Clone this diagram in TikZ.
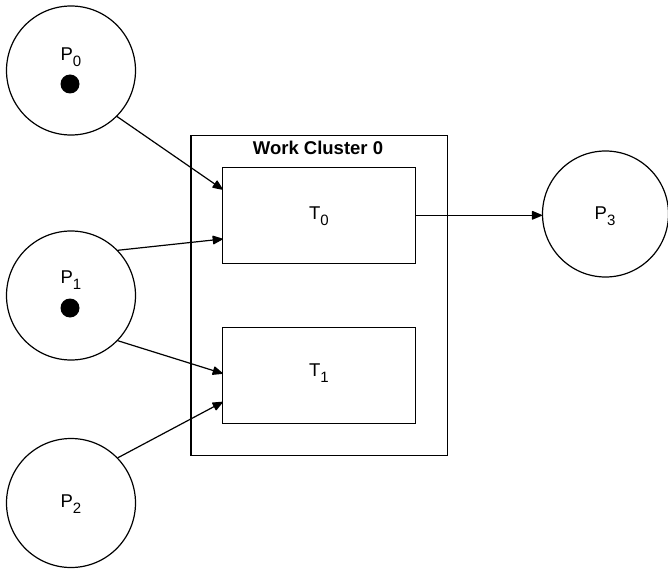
\documentclass[tikz,border=0pt]{standalone}
\usepackage{fontspec}
\setmainfont{Liberation Sans}
\usetikzlibrary{arrows.meta}
\newcommand{\mysub}[1]{\raisebox{-0.3em}{\fontsize{15}{16}\selectfont #1}}
\begin{document}
\begin{tikzpicture}[x=1pt,y=-1pt,
  place/.style={draw,circle,minimum size=129pt,inner sep=0pt,line width=1.2pt},
  trans/.style={draw,rectangle,minimum width=193pt,minimum height=96pt,inner sep=0pt,line width=1.2pt},
  cluster/.style={draw,rectangle,minimum width=256.5pt,minimum height=320pt,inner sep=0pt,line width=1.2pt},
  lbl/.style={font=\fontsize{18.5}{20}\selectfont,inner sep=0pt},
  token/.style={fill=black,circle,minimum size=19pt,inner sep=0pt},
  arc/.style={line width=1.2pt,-{Triangle[length=11pt,width=9pt,round]}}]
\useasboundingbox (0,0) rectangle (668,569);
% cluster
\node[cluster] (wc) at (319.3,295.2) {};
\node[lbl,font=\fontsize{18.5}{20}\selectfont\bfseries] (wct) at (318,148) {Work Cluster 0};
% transitions
\node[trans] (t0) at (319.3,215.3) {};
\node[lbl] (t0l) at (319,216) {T\mysub{0}};
\node[trans] (t1) at (319.3,375.3) {};
\node[lbl] (t1l) at (319,373) {T\mysub{1}};
% places
\node[place] (p0) at (71,70.5) {};
\node[lbl] (p0l) at (71,57) {P\mysub{0}};
\node[token] (d0) at (70,84) {};
\node[place] (p1) at (71,295.5) {};
\node[lbl] (p1l) at (71,280) {P\mysub{1}};
\node[token] (d1) at (70,308) {};
\node[place] (p2) at (71,503) {};
\node[lbl] (p2l) at (71,504) {P\mysub{2}};
\node[place,minimum size=126pt] (p3) at (605.5,214) {};
\node[lbl] (p3l) at (605,216) {P\mysub{3}};
% endpoints on transitions
\coordinate (a0) at (222.7,189.5);
\coordinate (a1) at (222.7,239);
\coordinate (a2) at (222.7,373.5);
\coordinate (a3) at (222.7,402);
% arcs
\draw[arc] (p0.-45) -- (a0);
\draw[arc] (p1.44) -- (a1);
\draw[arc] (p1.-44.5) -- (a2);
\draw[arc] (p2.44.5) -- (a3);
\draw[arc] (t0.east) -- (t0.east -| p3.west);
\end{tikzpicture}
\end{document}
